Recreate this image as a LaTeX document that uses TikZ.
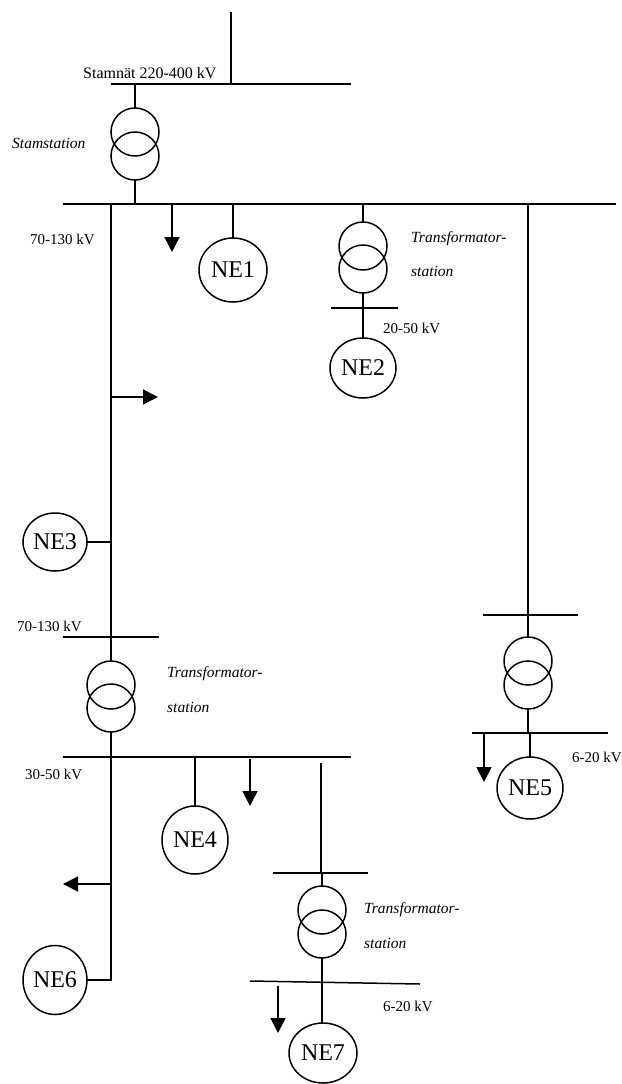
\documentclass[tikz,border=0pt]{standalone}
\usepackage{fontspec}
\setmainfont{Liberation Serif}
\usetikzlibrary{shapes.geometric,arrows.meta}
\begin{document}
\begin{tikzpicture}[x=1pt,y=-1pt,
 line/.style={line width=1.5pt},
 ld/.style={line width=1.5pt,-{Triangle[length=15pt,width=15pt]}},
 tr/.style={circle,draw,line width=1.5pt,minimum size=48pt,inner sep=0pt,outer sep=0pt},
 ne/.style={ellipse,draw,line width=1.5pt,inner sep=0pt,outer sep=0pt,font=\fontsize{24}{24}\selectfont},
 lbl/.style={anchor=base west,inner sep=0pt,font=\fontsize{15}{15}\selectfont},
 ilbl/.style={anchor=base west,inner sep=0pt,font=\fontsize{15.5}{15.5}\selectfont\itshape}]
\useasboundingbox (0,0) rectangle (621,1084);

% top: Stamnät
\coordinate (top) at (231,12);
\coordinate (sbL) at (111,84);
\coordinate (sbR) at (351,84);
\draw[line] (sbL) -- (sbR);
\draw[line] (top) -- (top |- sbL);
\node[lbl,font=\fontsize{16}{16}\selectfont] (lstam) at (83,78) {Stamnät 220-400 kV};
\node[tr] (t1a) at (135,132) {};
\node[tr] (t1b) at (135,156) {};
\coordinate (mbL) at (63,204);
\coordinate (mbR) at (616,204);
\draw[line] (t1a.north |- sbL) -- (t1a.north);
\draw[line] (t1b.south) -- (t1b.south |- mbL);
\node[ilbl] (lss) at (12,148) {Stamstation};

% main bus
\draw[line] (mbL) -- (mbR);
\node[lbl] (l70a) at (30,244) {70-130 kV};
\coordinate (a1s) at (172,204);
\coordinate (a1e) at (172,252);
\draw[ld] (a1s) -- (a1e);

% NE1
\node[ne,minimum width=68pt,minimum height=64pt] (ne1) at (233,270) {NE1};
\draw[line] (ne1.north |- mbL) -- (ne1.north);

% NE2 branch
\node[tr] (t2a) at (363,246) {};
\node[tr] (t2b) at (363,269) {};
\coordinate (b2L) at (331,308);
\coordinate (b2R) at (398,308);
\draw[line] (t2a.north |- mbL) -- (t2a.north);
\draw[line] (t2b.south) -- (t2b.south |- b2L);
\draw[line] (b2L) -- (b2R);
\node[ne,minimum width=66pt,minimum height=60pt] (ne2) at (363,368) {NE2};
\draw[line] (ne2.north |- b2L) -- (ne2.north);
\node[ilbl] (lt2a) at (411,242) {Transformator-};
\node[ilbl] (lt2b) at (411,276) {station};
\node[lbl] (l2050) at (383,333) {20-50 kV};

% right branch NE5
\coordinate (r1) at (528,204);
\coordinate (b5L) at (483,615);
\coordinate (b5R) at (578,615);
\draw[line] (r1) -- (r1 |- b5L);
\draw[line] (b5L) -- (b5R);
\node[tr] (t5a) at (528,661) {};
\node[tr] (t5b) at (528,685) {};
\draw[line] (t5a.north |- b5L) -- (t5a.north);
\coordinate (b6L) at (472,733);
\coordinate (b6R) at (608,733);
\draw[line] (t5b.south) -- (t5b.south |- b6L);
\draw[line] (b6L) -- (b6R);
\node[ne,minimum width=66pt,minimum height=62pt] (ne5) at (530,788) {NE5};
\draw[line] (ne5.north |- b6L) -- (ne5.north);
\coordinate (a5s) at (484,733);
\coordinate (a5e) at (484,782);
\draw[ld] (a5s) -- (a5e);
\node[lbl] (l620a) at (572,762) {6-20 kV};

% left trunk
\coordinate (lt0) at (111,204);
\coordinate (b3L) at (63,637);
\coordinate (b3R) at (159,637);
\draw[line] (lt0) -- (lt0 |- b3L);
\coordinate (a2s) at (111,397);
\coordinate (a2e) at (158,397);
\draw[ld] (a2s) -- (a2e);
\node[ne,minimum width=64pt,minimum height=58pt] (ne3) at (55,542) {NE3};
\draw[line] (ne3.east -| lt0) -- (ne3.east);
\draw[line] (b3L) -- (b3R);
\node[lbl] (l70b) at (17,631) {70-130 kV};
\node[tr] (t3a) at (111,685) {};
\node[tr] (t3b) at (111,708) {};
\draw[line] (t3a.north |- b3L) -- (t3a.north);
\node[ilbl] (lt3a) at (167,677) {Transformator-};
\node[ilbl] (lt3b) at (167,712) {station};

% 30-50 kV bus
\coordinate (b4L) at (63,757);
\coordinate (b4R) at (351,757);
\draw[line] (b4L) -- (b4R);
\node[lbl] (l3050) at (25,779) {30-50 kV};
\node[ne,minimum width=64pt,minimum height=69pt] (ne6) at (55,980) {NE6};
\draw[line] (t3b.south) -- (t3b.south |- ne6.east) -- (ne6.east);
\coordinate (a6s) at (111,884);
\coordinate (a6e) at (63,884);
\draw[ld] (a6s) -- (a6e);

% NE4
\node[ne,minimum width=66pt,minimum height=68pt] (ne4) at (195,840) {NE4};
\draw[line] (ne4.north |- b4L) -- (ne4.north);
\coordinate (a4s) at (250,759);
\coordinate (a4e) at (250,806);
\draw[ld] (a4s) -- (a4e);

% NE7 branch
\coordinate (v7) at (321,763);
\coordinate (b7L) at (273,873);
\coordinate (b7R) at (368,873);
\draw[line] (v7) -- (v7 |- b7L);
\draw[line] (b7L) -- (b7R);
\node[tr] (t7a) at (322,910) {};
\node[tr] (t7b) at (322,934) {};
\draw[line] (t7a.north |- b7L) -- (t7a.north);
\coordinate (b8L) at (250,981);
\coordinate (b8R) at (420,984);
\coordinate (j7) at (322,982.5);
\draw[line] (t7b.south) -- (j7);
\draw[line] (b8L) -- (b8R);
\node[ne,minimum width=68pt,minimum height=60pt] (ne7) at (323,1053) {NE7};
\draw[line] (j7) -- (j7 |- ne7.north);
\coordinate (a7s) at (278,986);
\coordinate (a7e) at (278,1033);
\draw[ld] (a7s) -- (a7e);
\node[ilbl] (lt7a) at (364,913) {Transformator-};
\node[ilbl] (lt7b) at (364,948) {station};
\node[lbl] (l620b) at (383,1011) {6-20 kV};
\end{tikzpicture}
\end{document}
